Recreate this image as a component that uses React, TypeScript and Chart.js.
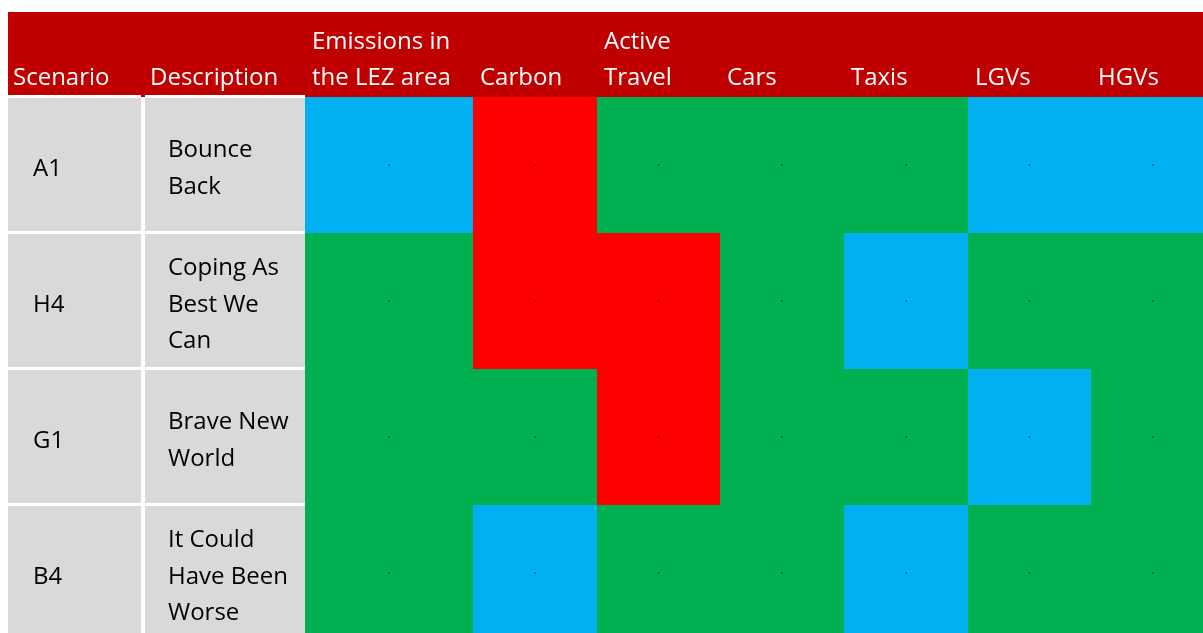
import { useEffect, useRef } from 'react';
import { Chart, registerables } from 'chart.js';

Chart.register(...registerables);

// ---- data ----
const SCENARIOS = ['A1', 'H4', 'G1', 'B4'];
const DESCRIPTIONS = [
  ['Bounce', 'Back'],
  ['Coping As', 'Best We', 'Can'],
  ['Brave New', 'World'],
  ['It Could', 'Have Been', 'Worse'],
];
const HEADER_SCENARIO = ['Scenario'];
const HEADER_DESCRIPTION = ['Description'];
const INDICATORS = [
  ['Emissions in', 'the LEZ area'],
  ['Carbon'],
  ['Active', 'Travel'],
  ['Cars'],
  ['Taxis'],
  ['LGVs'],
  ['HGVs'],
];
// R = red, G = green, B = blue rating per indicator
const RATINGS_A1 = ['B', 'R', 'G', 'G', 'G', 'B', 'B'];
const RATINGS_H4 = ['G', 'R', 'R', 'G', 'B', 'G', 'G'];
const RATINGS_G1 = ['G', 'G', 'R', 'G', 'G', 'B', 'G'];
const RATINGS_B4 = ['G', 'B', 'G', 'G', 'B', 'G', 'G'];
const RATINGS = [RATINGS_A1, RATINGS_H4, RATINGS_G1, RATINGS_B4];

// ---- styles / layout ----
const RATING_COLORS: Record<string, string> = { R: '#FF0000', G: '#00B050', B: '#00B0F0' };
const HEADER_COLOR = '#C00000';
const GREY = '#D9D9D9';
const FONT = '24px "Open Sans"';
const PLOT_W = 1195;
const PLOT_H = 621;
const SCEN_W = 133;
const GAP = 4;
const DESC_W = 160;
const IND_W = [168, 124, 123, 124, 124, 123, 124];
const HEADER_H = 85;
const ROW_H = 136;
const LINE_H = 36.5;

export default function App() {
  const ref = useRef<HTMLCanvasElement>(null);

  useEffect(() => {
    const canvas = ref.current;
    if (!canvas) return;

    const scenStart = 0;
    const descStart = SCEN_W + GAP;
    const indEdges: [number, number][] = [];
    let acc = descStart + DESC_W;
    for (const w of IND_W) {
      indEdges.push([acc, acc + w]);
      acc += w;
    }
    const rowCenter = (i: number) => HEADER_H + ROW_H * (i + 0.5);

    const barBase = {
      type: 'bar' as const,
      indexAxis: 'y' as const,
      grouped: false,
      inflateAmount: 0,
      borderWidth: 0,
    };

    const datasets: any[] = [];
    datasets.push({
      ...barBase,
      label: 'header',
      order: 5,
      data: [{ x: [0, PLOT_W], y: HEADER_H / 2 }],
      backgroundColor: HEADER_COLOR,
      barThickness: HEADER_H,
    });
    datasets.push({
      ...barBase,
      label: 'Scenario',
      order: 4,
      data: SCENARIOS.map((_, i) => ({ x: [scenStart, scenStart + SCEN_W], y: rowCenter(i) - 2 })),
      backgroundColor: GREY,
      borderColor: '#FFFFFF',
      borderWidth: { top: 3, bottom: 0, left: 0, right: 0 },
      borderSkipped: false,
      barThickness: ROW_H,
    });
    datasets.push({
      ...barBase,
      label: 'Description',
      order: 4,
      data: SCENARIOS.map((_, i) => ({ x: [descStart, descStart + DESC_W], y: rowCenter(i) - 2 })),
      backgroundColor: GREY,
      borderColor: '#FFFFFF',
      borderWidth: { top: 3, bottom: 0, left: 0, right: 0 },
      borderSkipped: false,
      barThickness: ROW_H,
    });
    INDICATORS.forEach((lines, j) => {
      datasets.push({
        ...barBase,
        label: lines.join(' '),
        order: 3,
        data: SCENARIOS.map((_, i) => ({ x: indEdges[j], y: rowCenter(i) })),
        backgroundColor: RATINGS.map((r) => RATING_COLORS[r[j]]),
        barThickness: ROW_H,
      });
    });
    const dots: { x: number; y: number }[] = [];
    SCENARIOS.forEach((_, i) =>
      indEdges.forEach((e) => dots.push({ x: (e[0] + e[1]) / 2, y: rowCenter(i) }))
    );
    datasets.push({
      type: 'scatter',
      indexAxis: 'x',
      label: 'marks',
      order: 0,
      data: dots,
      pointRadius: 1,
      pointBackgroundColor: 'rgba(0,0,0,0.45)',
      pointBorderWidth: 0,
      pointHoverRadius: 0,
      pointHitRadius: 0,
      showLine: false,
    });

    const textPlugin = {
      id: 'tableText',
      afterDatasetsDraw(chart: any) {
        const { ctx } = chart;
        const x = chart.scales.x;
        const y = chart.scales.y;
        ctx.save();
        ctx.font = FONT;
        ctx.textAlign = 'left';
        ctx.textBaseline = 'alphabetic';

        // header
        ctx.fillStyle = '#FFFFFF';
        const headerBase = y.getPixelForValue(HEADER_H) - 12;
        const headerCols: { lines: string[]; left: number; pad: number }[] = [
          { lines: HEADER_SCENARIO, left: scenStart, pad: 5 },
          { lines: HEADER_DESCRIPTION, left: descStart, pad: 5 },
          ...INDICATORS.map((lines, j) => ({ lines, left: indEdges[j][0], pad: 7 })),
        ];
        headerCols.forEach((c) => {
          const n = c.lines.length;
          c.lines.forEach((t, k) => {
            ctx.fillText(t, x.getPixelForValue(c.left) + c.pad, headerBase - (n - 1 - k) * LINE_H);
          });
        });

        // rows
        ctx.fillStyle = '#000000';
        SCENARIOS.forEach((s, i) => {
          const cy = y.getPixelForValue(rowCenter(i)) + 10.5;
          ctx.fillText(s, x.getPixelForValue(scenStart) + 25, cy);
          const lines = DESCRIPTIONS[i];
          const n = lines.length;
          lines.forEach((t, k) => {
            ctx.fillText(t, x.getPixelForValue(descStart) + 23, cy + (k - (n - 1) / 2) * LINE_H);
          });
        });
        ctx.restore();
      },
    };

    const chart = new Chart(canvas, {
      type: 'bar',
      data: { datasets },
      options: {
        animation: false,
        responsive: true,
        maintainAspectRatio: false,
        indexAxis: 'y',
        events: [],
        layout: { autoPadding: false, padding: { left: 8, top: 12, right: 0, bottom: 0 } },
        scales: {
          x: { type: 'linear', min: 0, max: PLOT_W, display: false, offset: false, grace: 0, grid: { offset: false } },
          y: { type: 'linear', reverse: true, min: 0, max: PLOT_H, display: false, offset: false, grace: 0, grid: { offset: false } },
        },
        plugins: { legend: { display: false }, tooltip: { enabled: false } },
      },
      plugins: [textPlugin],
    } as any);

    return () => chart.destroy();
  }, []);

  return (
    <div style={{ position: 'fixed', left: 0, top: 0, width: 1203, height: 633 }}>
      <canvas ref={ref} />
    </div>
  );
}
